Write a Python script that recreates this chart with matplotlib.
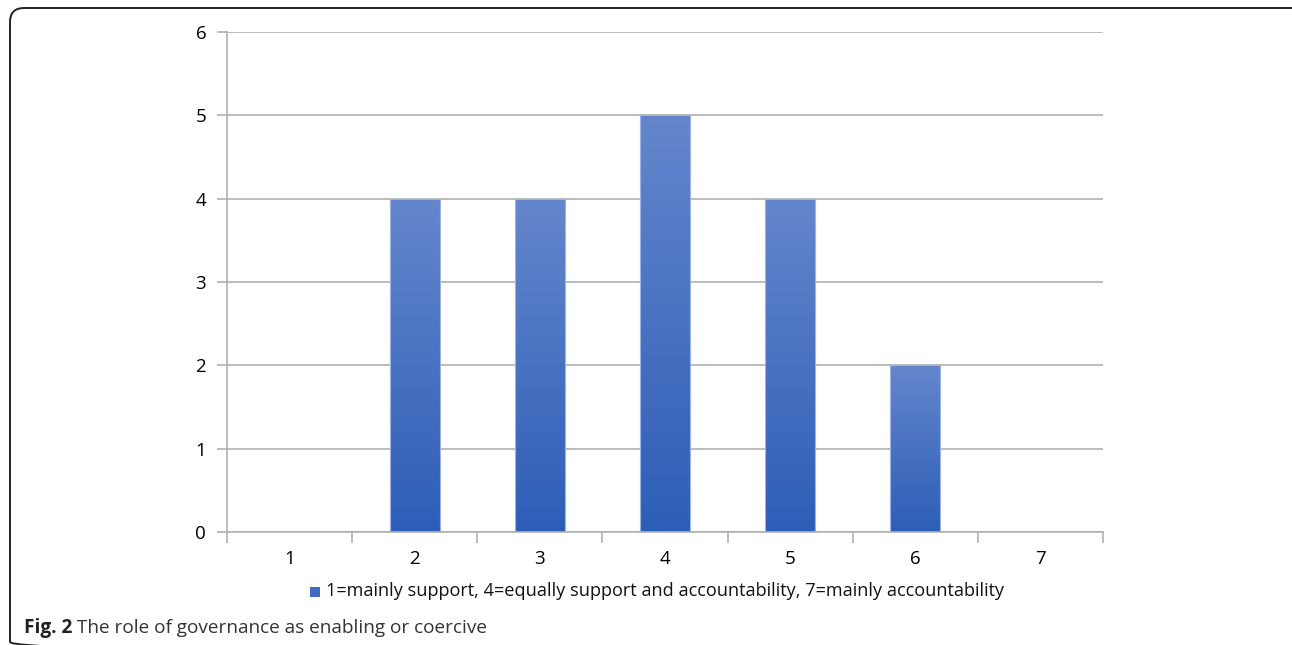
import numpy as np
import matplotlib
matplotlib.use("Agg")
import matplotlib.pyplot as plt
from matplotlib.patches import FancyBboxPatch, Rectangle
from matplotlib.colors import LinearSegmentedColormap

categories = ["1", "2", "3", "4", "5", "6", "7"]
values = [0, 4, 4, 5, 4, 2, 0]
yticks = [0, 1, 2, 3, 4, 5, 6]
legend_label = "1=mainly support, 4=equally support and accountability, 7=mainly accountability"
caption_bold = "Fig. 2"
caption_text = " The role of governance as enabling or coercive"

plt.rcParams['font.family'] = ['Open Sans', 'DejaVu Sans']

W, H = 1292, 645
fig = plt.figure(figsize=(W / 100, H / 100), dpi=100)

# background axes in pixel coordinates for frame
bg = fig.add_axes([0, 0, 1, 1], zorder=-5)
bg.set_xlim(0, W)
bg.set_ylim(H, 0)
bg.axis("off")
frame = FancyBboxPatch((10, 8), 1300, 648,
                       boxstyle="round,pad=0,rounding_size=14",
                       fill=False, edgecolor="#222222", linewidth=1.4)
bg.add_patch(frame)

ax = fig.add_axes([227 / W, 1 - 532 / H, (1103 - 227) / W, (532 - 32) / H])
x = np.arange(len(categories))

cmap = LinearSegmentedColormap.from_list("g", ["#2d5eb7", "#6486cc"])
grad = np.linspace(0, 1, 256).reshape(-1, 1)
bw = 0.4
for xi, v in zip(x, values):
    if v <= 0:
        continue
    im = ax.imshow(grad, cmap=cmap, origin="lower", aspect="auto",
                   extent=(xi - bw / 2, xi + bw / 2, 0, v), zorder=2)
    rect = Rectangle((xi - bw / 2, 0), bw, v, transform=ax.transData,
                     facecolor="none", edgecolor="#9db3e3", linewidth=0.8, zorder=3)
    ax.add_patch(rect)
    im.set_clip_path(rect)
ax.set_xlim(-0.5, len(categories) - 0.5)
ax.set_ylim(0, 6)

ax.set_yticks(yticks)
ax.set_yticklabels([str(t) for t in yticks])
ax.yaxis.grid(True, color="#b0b0b0", linewidth=1.2, zorder=0)
ax.set_axisbelow(True)
ax.set_xticks(x)
ax.set_xticklabels(categories)
ax.set_xticks(np.arange(-0.5, len(categories) + 0.5, 1), minor=True)
ax.tick_params(axis="x", which="major", length=0, pad=13, labelsize=13.5)
ax.tick_params(axis="x", which="minor", length=8, color="#b0b0b0", width=1.2)
ax.tick_params(axis="y", length=7, color="#b0b0b0", width=1.2, pad=8, labelsize=13.5)
for s in ["top", "right"]:
    ax.spines[s].set_visible(False)
ax.spines["left"].set_color("#b0b0b0")
ax.spines["bottom"].set_color("#b0b0b0")
ax.spines["left"].set_linewidth(1.2)
ax.spines["bottom"].set_linewidth(1.2)

# legend
bg.add_patch(Rectangle((310, 587), 10, 10, facecolor="#3f6cc4", edgecolor="none"))
fig.text(326 / W, 1 - 591 / H, legend_label, fontsize=13.05, va="center", ha="left",
         color="#111111")

# caption
t1 = fig.text(24 / W, 1 - 628 / H, caption_bold, fontsize=13.7, fontweight="bold",
              va="center", ha="left", color="#222222")
fig.canvas.draw()
bb = t1.get_window_extent()
fig.text(bb.x1 / W, 1 - 628 / H, caption_text, fontsize=13.7, va="center", ha="left",
         color="#333333")

fig.savefig("out.png", dpi=100)
